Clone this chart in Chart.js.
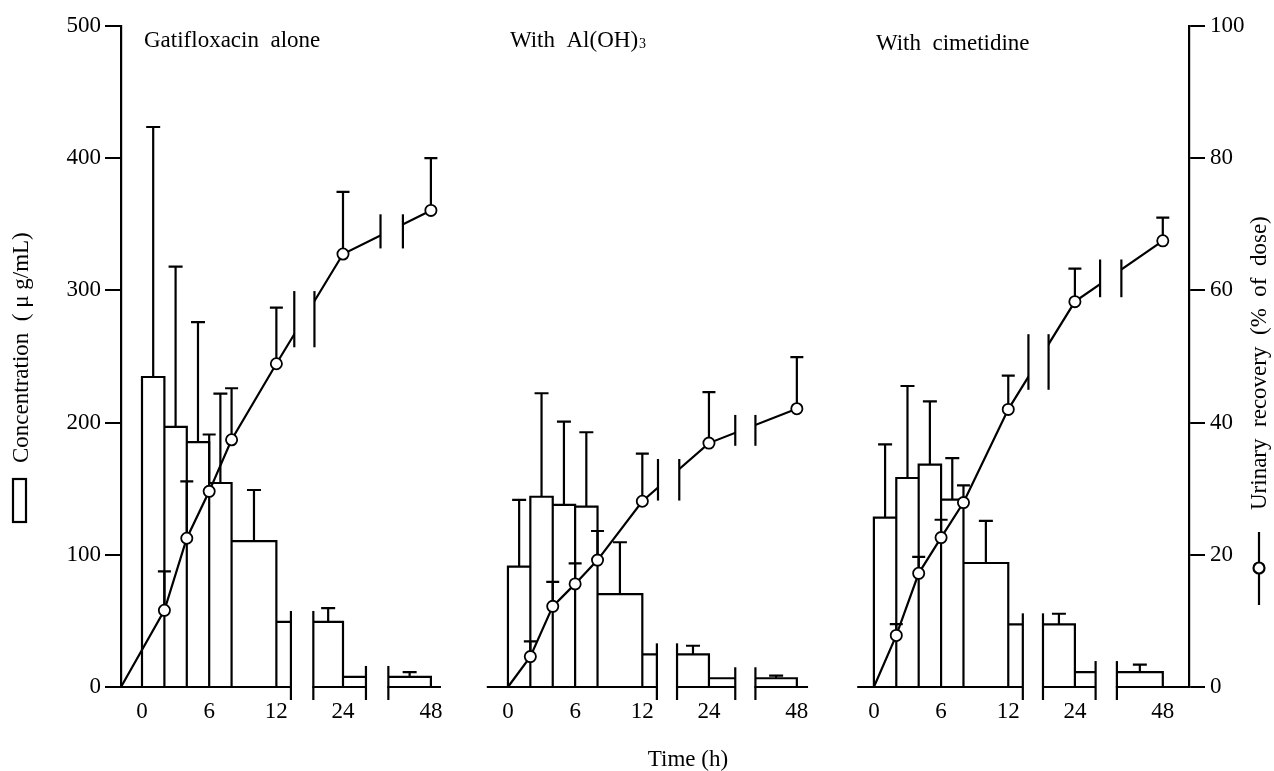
<!DOCTYPE html>
<html>
<head>
<meta charset="utf-8">
<script src="https://cdn.jsdelivr.net/npm/chart.js@4.4.1/dist/chart.umd.min.js"></script>
<style>
html,body{margin:0;padding:0;background:#fff;}
canvas{display:block;}
</style>
</head>
<body>
<canvas id="c" width="1274" height="771"></canvas>
<script>
// ---------------- DATA ----------------
const PANEL_TITLES = ['Gatifloxacin  alone', 'With  Al(OH)', 'With  cimetidine'];
const PANEL_TITLE_SUBSCRIPTS = ['', '3', ''];
const X_TITLE = 'Time (h)';
const Y_LEFT_TITLE = 'Concentration  ( \u03bc g/mL)';
const Y_RIGHT_TITLE = 'Urinary  recovery  (%  of  dose)';

// urinary recovery sampling times (h) and concentration collection intervals (h)
const TIME_POINTS    = [0, 2, 4, 6, 8, 12, 24, 48];
const INTERVAL_START = [0, 2, 4, 6, 8, 12, 24];
const INTERVAL_END   = [2, 4, 6, 8, 12, 24, 48];
const X_TICK_HOURS   = [0, 6, 12, 24, 48];

// urine concentration (ug/mL), mean and SD per interval
const CONC_ALONE    = [234.5, 196.7, 185.3, 154.3, 110.4, 49.2, 7.6];
const CONC_ALONE_SD = [189.1, 121.3, 90.7, 67.6, 38.6, 10.5, 3.7];
const CONC_ALOH     = [91.0, 143.9, 137.7, 136.4, 70.3, 24.7, 6.6];
const CONC_ALOH_SD  = [50.5, 78.3, 63.0, 56.3, 39.2, 6.5, 2.0];
const CONC_CIME     = [128.1, 158.1, 168.2, 141.7, 93.8, 47.4, 11.3];
const CONC_CIME_SD  = [55.5, 69.6, 47.9, 31.5, 31.8, 8.0, 5.6];

// cumulative urinary recovery (% of dose), mean and SD per time point
const REC_ALONE    = [0, 11.6, 22.5, 29.6, 37.4, 48.9, 65.5, 72.1];
const REC_ALONE_SD = [0, 5.9, 8.6, 8.6, 7.8, 8.5, 9.4, 7.9];
const REC_ALOH     = [0, 4.6, 12.2, 15.6, 19.2, 28.1, 36.9, 42.1];
const REC_ALOH_SD  = [0, 2.3, 3.7, 3.1, 4.4, 7.2, 7.7, 7.8];
const REC_CIME     = [0, 7.8, 17.2, 22.6, 27.9, 42.0, 58.3, 67.5];
const REC_CIME_SD  = [0, 1.7, 2.5, 2.7, 2.6, 5.1, 5.0, 3.5];

const SERIES = [
  {conc: CONC_ALONE, concSD: CONC_ALONE_SD, rec: REC_ALONE, recSD: REC_ALONE_SD},
  {conc: CONC_ALOH,  concSD: CONC_ALOH_SD,  rec: REC_ALOH,  recSD: REC_ALOH_SD},
  {conc: CONC_CIME,  concSD: CONC_CIME_SD,  rec: REC_CIME,  recSD: REC_CIME_SD}
];

// ---------------- LAYOUT (broken time axis) ----------------
const TIME_ANCHORS = [0, 12, 24, 48];
const AXIS_ANCHORS = [0, 12, 17.95, 25.8];
const X_MIN = -1.875, X_MAX = 93.5;
const PANELS = [
  {offset: 0,     from: -1.875, to: 26.7, barGaps: [[13.3,15.3],[20.0,22.0]], lineGaps: [[13.6,15.4],[21.3,23.3]], lineFromAxis: true,  titleY: 47},
  {offset: 32.68, from: -1.8,   to: 26.8, barGaps: [[13.3,15.1],[20.3,22.1]], lineGaps: [[13.4,15.3],[20.3,22.1]], lineFromAxis: false, titleY: 47},
  {offset: 65.36, from: -1.4,   to: X_MAX - 65.36, barGaps: [[13.3,15.1],[19.8,21.7]], lineGaps: [[13.8,15.6],[20.2,22.1]], lineFromAxis: false, titleY: 50}
];
const FONT = "'Liberation Serif', 'Times New Roman', serif";
const FS = 23;

function toAxis(t) {
  for (let i = 1; i < TIME_ANCHORS.length; i++) {
    if (t <= TIME_ANCHORS[i]) {
      const f = (t - TIME_ANCHORS[i-1]) / (TIME_ANCHORS[i] - TIME_ANCHORS[i-1]);
      return AXIS_ANCHORS[i-1] + f * (AXIS_ANCHORS[i] - AXIS_ANCHORS[i-1]);
    }
  }
  return AXIS_ANCHORS[AXIS_ANCHORS.length - 1];
}
function visiblePieces(a, b, gaps) {
  let pieces = [[a, b]];
  gaps.forEach(([g0, g1]) => {
    const next = [];
    pieces.forEach(([p0, p1]) => {
      if (g1 <= p0 || g0 >= p1) { next.push([p0, p1]); return; }
      if (g0 > p0) next.push([p0, g0]);
      if (g1 < p1) next.push([g1, p1]);
    });
    pieces = next;
  });
  return pieces;
}

// ---------------- DATASETS ----------------
const datasets = [];
SERIES.forEach((s, p) => {
  const L = PANELS[p];
  const pts = [];
  s.conc.forEach((v, i) => {
    const x0 = L.offset + toAxis(INTERVAL_START[i]);
    const x1 = L.offset + toAxis(INTERVAL_END[i]);
    if (i === 0) pts.push({x: x0, y: 0});
    pts.push({x: x0, y: v}, {x: x1, y: v}, {x: x1, y: 0});
  });
  datasets.push({
    kind: 'bars', panel: p, data: pts, yAxisID: 'y', showLine: true,
    borderColor: '#000', borderWidth: 2.2, pointRadius: 0, fill: false, tension: 0,
    borderJoinStyle: 'miter', clip: false, order: 2
  });
  datasets.push({
    kind: 'line', panel: p, yAxisID: 'y2', showLine: true,
    data: TIME_POINTS.map((t, i) => ({x: (i === 0 && L.lineFromAxis) ? X_MIN : L.offset + toAxis(t), y: s.rec[i]})),
    borderColor: '#000', borderWidth: 2.2, tension: 0, fill: false,
    pointRadius: TIME_POINTS.map((t, i) => i === 0 ? 0 : 5.6),
    pointBackgroundColor: '#fff', pointBorderColor: '#000', pointBorderWidth: 1.8,
    clip: false, order: 0
  });
});

const xTickValues = [];
const xTickLabels = [];
PANELS.forEach(L => X_TICK_HOURS.forEach(h => { xTickValues.push(L.offset + toAxis(h)); xTickLabels.push(String(h)); }));

// ---------------- PLUGIN ----------------
function drawErr(ctx, x, y0, y1, cap) {
  ctx.beginPath();
  ctx.moveTo(x, y0); ctx.lineTo(x, y1);
  ctx.moveTo(x - cap/2, y1); ctx.lineTo(x + cap/2, y1);
  ctx.stroke();
}
function vline(ctx, x, y0, y1) { ctx.beginPath(); ctx.moveTo(x, y0); ctx.lineTo(x, y1); ctx.stroke(); }

const figurePlugin = {
  id: 'figure',
  beforeDatasetDraw(chart, args) {
    const ds = chart.data.datasets[args.index];
    const ctx = chart.ctx, xs = chart.scales.x, L = PANELS[ds.panel];
    ctx.save();
    ctx.strokeStyle = '#000'; ctx.lineWidth = 2.2; ctx.lineCap = 'butt';
    if (ds.kind === 'line') {
      const s = SERIES[ds.panel], y2 = chart.scales.y2;
      args.meta.data.forEach((pt, i) => {
        if (i === 0 || !s.recSD[i]) return;
        drawErr(ctx, pt.x, pt.y, y2.getPixelForValue(s.rec[i] + s.recSD[i]), 13);
      });
    }
    ctx.restore();
    const gaps = ds.kind === 'line' ? L.lineGaps : L.barGaps;
    ctx.save();
    ctx.beginPath();
    ctx.rect(0, 0, chart.width, chart.height);
    gaps.forEach(([a, b]) => {
      const pa = xs.getPixelForValue(L.offset + a), pb = xs.getPixelForValue(L.offset + b);
      ctx.rect(pa, 0, pb - pa, chart.height);
    });
    ctx.clip('evenodd');
  },
  afterDatasetDraw(chart, args) {
    const ctx = chart.ctx;
    ctx.restore();
    const ds = chart.data.datasets[args.index];
    if (ds.kind !== 'bars') return;
    const s = SERIES[ds.panel], L = PANELS[ds.panel], xs = chart.scales.x, ys = chart.scales.y;
    ctx.save();
    ctx.strokeStyle = '#000'; ctx.lineWidth = 2.2;
    s.conc.forEach((v, i) => {
      const pieces = visiblePieces(toAxis(INTERVAL_START[i]), toAxis(INTERVAL_END[i]), L.barGaps);
      const last = pieces[pieces.length - 1];
      const cx = xs.getPixelForValue(L.offset + (last[0] + last[1]) / 2);
      drawErr(ctx, cx, ys.getPixelForValue(v), ys.getPixelForValue(v + s.concSD[i]), 14);
    });
    ctx.restore();
  },
  afterDatasetsDraw(chart) {
    const ctx = chart.ctx, xs = chart.scales.x, ys = chart.scales.y;
    const y0 = ys.getPixelForValue(0);
    ctx.save();
    ctx.strokeStyle = '#000'; ctx.lineWidth = 2.2; ctx.lineCap = 'butt';
    PANELS.forEach((L, p) => {
      const px = v => xs.getPixelForValue(L.offset + v);
      // broken baseline
      const edges = [L.from, L.barGaps[0][0], L.barGaps[0][1], L.barGaps[1][0], L.barGaps[1][1], L.to];
      for (let k = 0; k < edges.length; k += 2) {
        ctx.beginPath(); ctx.moveTo(px(edges[k]) - 1, y0); ctx.lineTo(px(edges[k+1]), y0); ctx.stroke();
      }
      // bar break marks
      const s = SERIES[p];
      L.barGaps.forEach(([a, b]) => {
        let v = 0;
        s.conc.forEach((c, i) => { if (toAxis(INTERVAL_START[i]) < a && toAxis(INTERVAL_END[i]) > b) v = c; });
        const top = ys.getPixelForValue(v) - 11, bot = y0 + 13;
        vline(ctx, px(a), top, bot);
        vline(ctx, px(b), top, bot);
      });
      // line break marks
      const meta = chart.getDatasetMeta(p * 2 + 1);
      const yAt = (x) => {
        const d = meta.data;
        for (let i = 1; i < d.length; i++) {
          if (d[i-1].x <= x && x <= d[i].x) {
            const f = (x - d[i-1].x) / (d[i].x - d[i-1].x);
            return d[i-1].y + f * (d[i].y - d[i-1].y);
          }
        }
        return null;
      };
      L.lineGaps.forEach(([a, b]) => {
        const ya = yAt(px(a)), yb = yAt(px(b));
        const top = Math.min(ya, yb) - 10, bot = Math.max(ya, yb) + 13;
        vline(ctx, px(a), top, bot);
        vline(ctx, px(b), top, bot);
      });
    });
    ctx.restore();
  },
  afterDraw(chart) {
    const ctx = chart.ctx, xs = chart.scales.x;
    ctx.save();
    ctx.fillStyle = '#000'; ctx.strokeStyle = '#000';
    ctx.font = FS + 'px ' + FONT;
    ctx.textBaseline = 'alphabetic'; ctx.textAlign = 'left';
    // panel titles
    PANELS.forEach((L, p) => {
      const x = xs.getPixelForValue(L.offset) + 2;
      ctx.font = FS + 'px ' + FONT;
      ctx.fillText(PANEL_TITLES[p], x, L.titleY);
      if (PANEL_TITLE_SUBSCRIPTS[p]) {
        const w = ctx.measureText(PANEL_TITLES[p]).width;
        ctx.font = '14px ' + FONT;
        ctx.fillText(PANEL_TITLE_SUBSCRIPTS[p], x + w + 1, L.titleY + 1);
      }
    });
    // x title
    ctx.font = FS + 'px ' + FONT;
    ctx.textAlign = 'center';
    ctx.fillText(X_TITLE, xs.getPixelForValue(PANELS[1].offset + 16.07), 766);
    // left title + legend symbol
    ctx.textAlign = 'left';
    ctx.save();
    ctx.translate(28, 463); ctx.rotate(-Math.PI / 2);
    ctx.fillText(Y_LEFT_TITLE, 0, 0);
    ctx.restore();
    ctx.lineWidth = 2.2;
    ctx.strokeRect(13, 479, 13, 43);
    // right title + legend symbol
    ctx.save();
    ctx.translate(1266, 510); ctx.rotate(-Math.PI / 2);
    ctx.fillText(Y_RIGHT_TITLE, 0, 0);
    ctx.restore();
    vline(ctx, 1259, 532, 605);
    ctx.beginPath(); ctx.arc(1259, 568, 5.5, 0, Math.PI * 2);
    ctx.fillStyle = '#fff'; ctx.fill(); ctx.stroke();
    ctx.restore();
  }
};

Chart.defaults.font.family = FONT;
Chart.defaults.font.size = FS;
Chart.defaults.color = '#000';

new Chart(document.getElementById('c'), {
  type: 'scatter',
  data: {datasets},
  plugins: [figurePlugin],
  options: {
    responsive: false,
    animation: false,
    devicePixelRatio: 1,
    events: [],
    layout: {padding: {top: 26, left: 0, right: 0, bottom: 0}},
    plugins: {legend: {display: false}, tooltip: {enabled: false}},
    scales: {
      x: {
        type: 'linear', min: X_MIN, max: X_MAX, position: 'bottom',
        grid: {display: false, drawTicks: false},
        border: {display: false},
        afterBuildTicks: (axis) => { axis.ticks = xTickValues.map(v => ({value: v})); },
        ticks: {autoSkip: false, maxRotation: 0, padding: 11, font: {size: FS, family: FONT},
                callback: (v, i) => xTickLabels[i]},
        afterFit: (s) => { s.height = 84; }
      },
      y: {
        type: 'linear', position: 'left', min: 0, max: 500,
        grid: {display: true, drawOnChartArea: false, drawTicks: true, tickLength: 16, color: '#000', lineWidth: 2},
        border: {display: true, color: '#000', width: 2.2},
        ticks: {stepSize: 100, padding: 4, font: {size: FS, family: FONT}},
        afterFit: (s) => { s.width = 121; }
      },
      y2: {
        type: 'linear', position: 'right', min: 0, max: 100,
        grid: {display: true, drawOnChartArea: false, drawTicks: true, tickLength: 16, color: '#000', lineWidth: 2},
        border: {display: true, color: '#000', width: 2.2},
        ticks: {stepSize: 20, padding: 5, font: {size: FS, family: FONT}},
        afterFit: (s) => { s.width = 85; }
      }
    }
  }
});
</script>
</body>
</html>
